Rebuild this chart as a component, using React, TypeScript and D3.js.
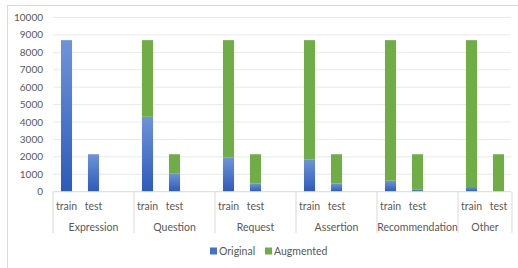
import React from 'react';
import * as d3 from 'd3';

const groups = ['Expression', 'Question', 'Request', 'Assertion', 'Recommendation', 'Other'];
const splits = ['train', 'test'];
const originalTrain = [8700, 4300, 1950, 1860, 630, 270];
const originalTest = [2150, 1060, 460, 460, 140, 30];
const augmentedTrain = [0, 4400, 6750, 6840, 8070, 8430];
const augmentedTest = [0, 1090, 1690, 1690, 2010, 2120];
const yTicks = [0, 1000, 2000, 3000, 4000, 5000, 6000, 7000, 8000, 9000, 10000];
const seriesNames = ['Original', 'Augmented'];

const W = 518;
const H = 268;
const FONT = 'Lato, "Open Sans", sans-serif';
const BLUE = '#4472c4';
const GREEN = '#70ad47';

// each group takes train, test and an empty slot (Excel leaves a blank after every group but the last)
const slots: string[] = [];
groups.forEach((g, i) => {
  slots.push(`${g}|train`, `${g}|test`);
  if (i < groups.length - 1) slots.push(`${g}|gap`);
});

const rows = groups.flatMap((g, i) => [
  { group: g, split: 'train', original: originalTrain[i], augmented: augmentedTrain[i] },
  { group: g, split: 'test', original: originalTest[i], augmented: augmentedTest[i] },
]);

export default function App() {
  const x = d3.scaleBand<string>().domain(slots).range([53, 512]).padding(0);
  const y = d3.scaleLinear().domain([0, 10000]).range([191.7, 17.5]);
  const bw = x.bandwidth();
  const barW = bw * 0.41;

  const groupStart = (g: string) => x(`${g}|train`)!;
  const groupEnd = (g: string, i: number) =>
    i < groups.length - 1 ? x(`${g}|gap`)! + bw : x(`${g}|test`)! + bw;

  return (
    <svg width={W} height={H} style={{ position: 'absolute', left: 0, top: 0, background: '#fff' }} fontFamily={FONT}>
      <defs>
        <linearGradient id="blueGrad" x1="0" y1="0" x2="0" y2="1">
          <stop offset="0%" stopColor="#6e93d8" />
          <stop offset="100%" stopColor="#2d5bb9" />
        </linearGradient>
      </defs>
      <rect x={7.5} y={5.5} width={W} height={H} fill="#fff" stroke="#d9d9d9" />

      {/* gridlines */}
      {yTicks.slice(1).map(t => (
        <line key={t} x1={53} x2={511} y1={y(t)} y2={y(t)} stroke="#e9e9e9" strokeWidth={1} />
      ))}
      {/* y tick labels */}
      {yTicks.map(t => (
        <text key={t} x={43} y={y(t)} dy="0.35em" textAnchor="end" fontSize={10} fill="#595959">
          {t}
        </text>
      ))}

      {/* bars */}
      {rows.map(r => {
        const bx = x(`${r.group}|${r.split}`)! + (bw - barW) / 2;
        return (
          <g key={`${r.group}-${r.split}`}>
            <rect x={bx} width={barW} y={y(r.original)} height={y(0) - y(r.original)} fill="url(#blueGrad)" />
            {r.augmented > 0 && (
              <rect
                x={bx}
                width={barW}
                y={y(r.original + r.augmented)}
                height={y(r.original) - y(r.original + r.augmented)}
                fill={GREEN}
              />
            )}
          </g>
        );
      })}

      {/* category axis */}
      <line x1={53} x2={511} y1={y(0)} y2={y(0)} stroke="#d9d9d9" />
      {groups.map((g, i) => (
        <g key={g}>
          <line x1={groupStart(g)} x2={groupStart(g)} y1={y(0)} y2={233} stroke="#d9d9d9" />
          {i === groups.length - 1 && (
            <line x1={groupEnd(g, i)} x2={groupEnd(g, i)} y1={y(0)} y2={233} stroke="#d9d9d9" />
          )}
          {splits.map(s => (
            <text
              key={s}
              x={x(`${g}|${s}`)! + bw / 2}
              y={206}
              dy="0.35em"
              textAnchor="middle"
              fontSize={10.5}
              fill="#595959"
            >
              {s}
            </text>
          ))}
          <text
            x={(groupStart(g) + groupEnd(g, i)) / 2}
            y={227.5}
            dy="0.35em"
            textAnchor="middle"
            fontSize={10.5}
            fill="#595959"
          >
            {g}
          </text>
        </g>
      ))}

      {/* legend */}
      {seriesNames.map((n, i) => {
        const lx = i === 0 ? 210 : 265;
        return (
          <g key={n}>
            <rect x={lx} y={247.5} width={7} height={7} fill={i === 0 ? BLUE : GREEN} />
            <text x={lx + 9} y={251} dy="0.35em" fontSize={10.5} fill="#595959">
              {n}
            </text>
          </g>
        );
      })}
    </svg>
  );
}
